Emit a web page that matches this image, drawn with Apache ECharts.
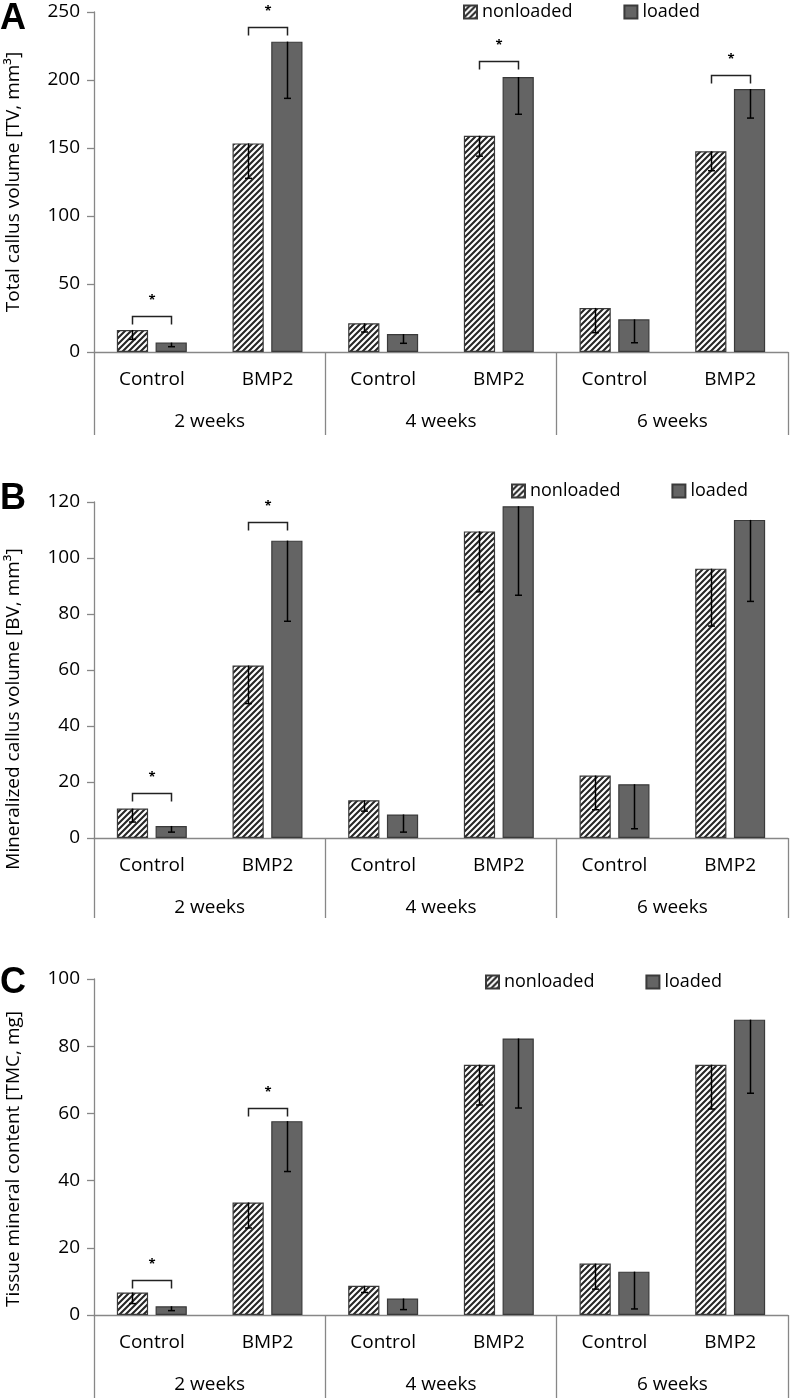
<!DOCTYPE html>
<html>
<head>
<meta charset="utf-8">
<script src="https://cdn.jsdelivr.net/npm/echarts@6/dist/echarts.min.js"></script>
<style>
html,body{margin:0;padding:0;background:#fff;}
#chart{width:792px;height:1398px;}
</style>
</head>
<body>
<div id="chart"></div>
<script>
// ---------- data ----------
var categories = ['Control', 'BMP2', 'Control', 'BMP2', 'Control', 'BMP2'];
var weeks = ['2 weeks', '4 weeks', '6 weeks'];
var seriesNames = ['nonloaded', 'loaded'];

// Panel A: Total callus volume
var tvNonloaded = [16.2, 153.4, 21.1, 159.0, 32.4, 147.6];
var tvNonloadedErr = [6.9, 25.7, 6.4, 15.0, 18.2, 14.3];
var tvLoaded = [6.9, 228.2, 13.2, 202.2, 24.0, 193.4];
var tvLoadedErr = [3.0, 41.7, 6.8, 27.4, 17.2, 21.4];
var tvSig = [[0, 26.5], [1, 239], [3, 214], [5, 203.7]];
var tvTicks = {min: 0, max: 250, interval: 50};

// Panel B: Mineralized callus volume
var bvNonloaded = [10.5, 61.6, 13.5, 109.5, 22.3, 96.2];
var bvNonloadedErr = [4.8, 13.6, 3.9, 21.6, 12.2, 20.5];
var bvLoaded = [4.3, 106.2, 8.4, 118.5, 19.2, 113.6];
var bvLoadedErr = [2.2, 28.8, 6.3, 31.8, 15.9, 29.1];
var bvSig = [[0, 16.2], [1, 112.9]];
var bvTicks = {min: 0, max: 120, interval: 20};

// Panel C: Tissue mineral content
var tmcNonloaded = [6.7, 33.5, 8.7, 74.5, 15.3, 74.5];
var tmcNonloadedErr = [3.3, 7.6, 2.0, 12.0, 7.6, 13.2];
var tmcLoaded = [2.6, 57.7, 4.9, 82.3, 12.9, 87.9];
var tmcLoadedErr = [1.3, 15.0, 3.3, 20.7, 11.1, 21.9];
var tmcSig = [[0, 10.4], [1, 61.6]];
var tmcTicks = {min: 0, max: 100, interval: 20};

var panelLetters = ['A', 'B', 'C'];
var yTitles = ['Total callus volume [TV, mm\u00B3]', 'Mineralized callus volume [BV, mm\u00B3]', 'Tissue mineral content [TMC, mg]'];

// ---------- style / layout ----------
var FONT = '"Open Sans", Lato, sans-serif';
var AXIS_COLOR = '#878787';
var BAR_W = 0.27, BAR_GAP = 0.24;

function makeHatch() {
  var c = document.createElement('canvas');
  c.width = 6; c.height = 6;
  var ctx = c.getContext('2d');
  ctx.fillStyle = '#ffffff';
  ctx.fillRect(0, 0, 6, 6);
  ctx.strokeStyle = '#262626';
  ctx.lineWidth = 2.1;
  ctx.beginPath();
  ctx.moveTo(-1, 7); ctx.lineTo(7, -1);
  ctx.moveTo(-4, 4); ctx.lineTo(4, -4);
  ctx.moveTo(2, 10); ctx.lineTo(10, 2);
  ctx.stroke();
  return c;
}
var hatch = {image: makeHatch(), repeat: 'repeat'};

var panels = [
  {nl: tvNonloaded, nlE: tvNonloadedErr, l: tvLoaded, lE: tvLoadedErr, sig: tvSig, ticks: tvTicks,
   top: 12, height: 340, labelDepth: 83, legendTop: -2, legendLeft: 458, letterY: 28, titleY: 182},
  {nl: bvNonloaded, nlE: bvNonloadedErr, l: bvLoaded, lE: bvLoadedErr, sig: bvSig, ticks: bvTicks,
   top: 502, height: 336, labelDepth: 80, legendTop: 477, legendLeft: 506, letterY: 508, titleY: 709},
  {nl: tmcNonloaded, nlE: tmcNonloadedErr, l: tmcLoaded, lE: tmcLoadedErr, sig: tmcSig, ticks: tmcTicks,
   top: 979, height: 336, labelDepth: 83, legendTop: 968, legendLeft: 480, letterY: 992, titleY: 1159}
];

function barOffset(api, sign) {
  var band = api.size([1, 0])[0];
  var bw = band * BAR_W;
  return sign * (bw + bw * BAR_GAP) / 2;
}

function errRender(sign) {
  return function (params, api) {
    var cat = api.value(0), v = api.value(1), e = api.value(2);
    var top = api.coord([cat, v]);
    var bot = api.coord([cat, v - e]);
    var x = Math.round(top[0] + barOffset(api, sign)) + 0.5;
    return {
      type: 'group',
      children: [
        {type: 'line', shape: {x1: x, y1: top[1], x2: x, y2: bot[1]}, style: {stroke: '#000', lineWidth: 1.5}},
        {type: 'line', shape: {x1: x - 3.5, y1: bot[1], x2: x + 3.5, y2: bot[1]}, style: {stroke: '#000', lineWidth: 1.5}}
      ]
    };
  };
}

function sigRender(params, api) {
  var cat = api.value(0), v = api.value(1);
  var p = api.coord([cat, v]);
  var x1 = Math.round(p[0] + barOffset(api, -1)) + 0.5;
  var x2 = Math.round(p[0] + barOffset(api, 1)) + 0.5;
  var y = Math.round(p[1]) + 0.5;
  return {
    type: 'group',
    children: [
      {type: 'polyline', shape: {points: [[x1, y + 8], [x1, y], [x2, y], [x2, y + 8]]},
       style: {stroke: '#222', lineWidth: 1.5, fill: null}},
      {type: 'text', style: {text: '*', x: (x1 + x2) / 2, y: y - 16, align: 'center', verticalAlign: 'middle',
        font: 'bold 13px ' + FONT, fill: '#000'}}
    ]
  };
}

var grids = [], xAxes = [], yAxes = [], series = [], legends = [], graphics = [];
panels.forEach(function (p, k) {
  grids.push({left: 94, width: 694, top: p.top, height: p.height});
  xAxes.push({
    type: 'category', gridIndex: k, data: categories,
    axisLine: {show: true, lineStyle: {color: AXIS_COLOR, width: 1.3}},
    axisTick: {show: false},
    axisLabel: {fontFamily: FONT, fontSize: 19, color: '#000', margin: 18}
  });
  xAxes.push({
    type: 'category', gridIndex: k, data: weeks, position: 'bottom',
    axisLine: {show: false},
    axisTick: {show: true, length: p.labelDepth, lineStyle: {color: AXIS_COLOR, width: 1.3}},
    axisLabel: {fontFamily: FONT, fontSize: 19, color: '#000', margin: 60}
  });
  yAxes.push({
    type: 'value', gridIndex: k, min: p.ticks.min, max: p.ticks.max, interval: p.ticks.interval,
    axisLine: {show: true, lineStyle: {color: AXIS_COLOR, width: 1.3}},
    axisTick: {show: true, length: 7, lineStyle: {color: AXIS_COLOR, width: 1.3}},
    splitLine: {show: false},
    axisLabel: {fontFamily: FONT, fontSize: 19, color: '#000', margin: 14}
  });
  series.push({
    name: 'nonloaded', type: 'bar', xAxisIndex: 2 * k, yAxisIndex: k, data: p.nl,
    barWidth: (BAR_W * 100) + '%', barGap: (BAR_GAP * 100) + '%',
    itemStyle: {color: hatch, borderColor: '#3a3a3a', borderWidth: 1.2}
  });
  series.push({
    name: 'loaded', type: 'bar', xAxisIndex: 2 * k, yAxisIndex: k, data: p.l,
    barWidth: (BAR_W * 100) + '%', barGap: (BAR_GAP * 100) + '%',
    itemStyle: {color: '#646464', borderColor: '#3a3a3a', borderWidth: 1.2}
  });
  series.push({
    type: 'custom', xAxisIndex: 2 * k, yAxisIndex: k, z: 5, renderItem: errRender(-1),
    data: p.nl.map(function (v, i) { return [i, v, p.nlE[i]]; })
  });
  series.push({
    type: 'custom', xAxisIndex: 2 * k, yAxisIndex: k, z: 5, renderItem: errRender(1),
    data: p.l.map(function (v, i) { return [i, v, p.lE[i]]; })
  });
  series.push({
    type: 'custom', xAxisIndex: 2 * k, yAxisIndex: k, z: 5, renderItem: sigRender, clip: false,
    data: p.sig
  });
  legends.push({
    data: seriesNames, left: p.legendLeft, top: p.legendTop, orient: 'horizontal',
    itemWidth: 13, itemHeight: 13, itemGap: 51, selectedMode: false, icon: 'rect',
    textStyle: {fontFamily: FONT, fontSize: 18, color: '#000', padding: [0, 0, 0, 0]}
  });
  graphics.push({
    type: 'text', left: 0, top: p.letterY - 27,
    style: {text: panelLetters[k], font: 'bold 36px "Liberation Sans", Arial, sans-serif', fill: '#000'}
  });
  graphics.push({
    type: 'text', x: 14, y: p.titleY, rotation: Math.PI / 2,
    style: {text: yTitles[k], font: '19px ' + FONT, fill: '#000', align: 'center', verticalAlign: 'middle'}
  });
});

var chart = echarts.init(document.getElementById('chart'), null, {renderer: 'canvas'});
chart.setOption({
  animation: false,
  backgroundColor: '#ffffff',
  grid: grids,
  xAxis: xAxes,
  yAxis: yAxes,
  legend: legends,
  series: series,
  graphic: graphics
});
</script>
</body>
</html>
